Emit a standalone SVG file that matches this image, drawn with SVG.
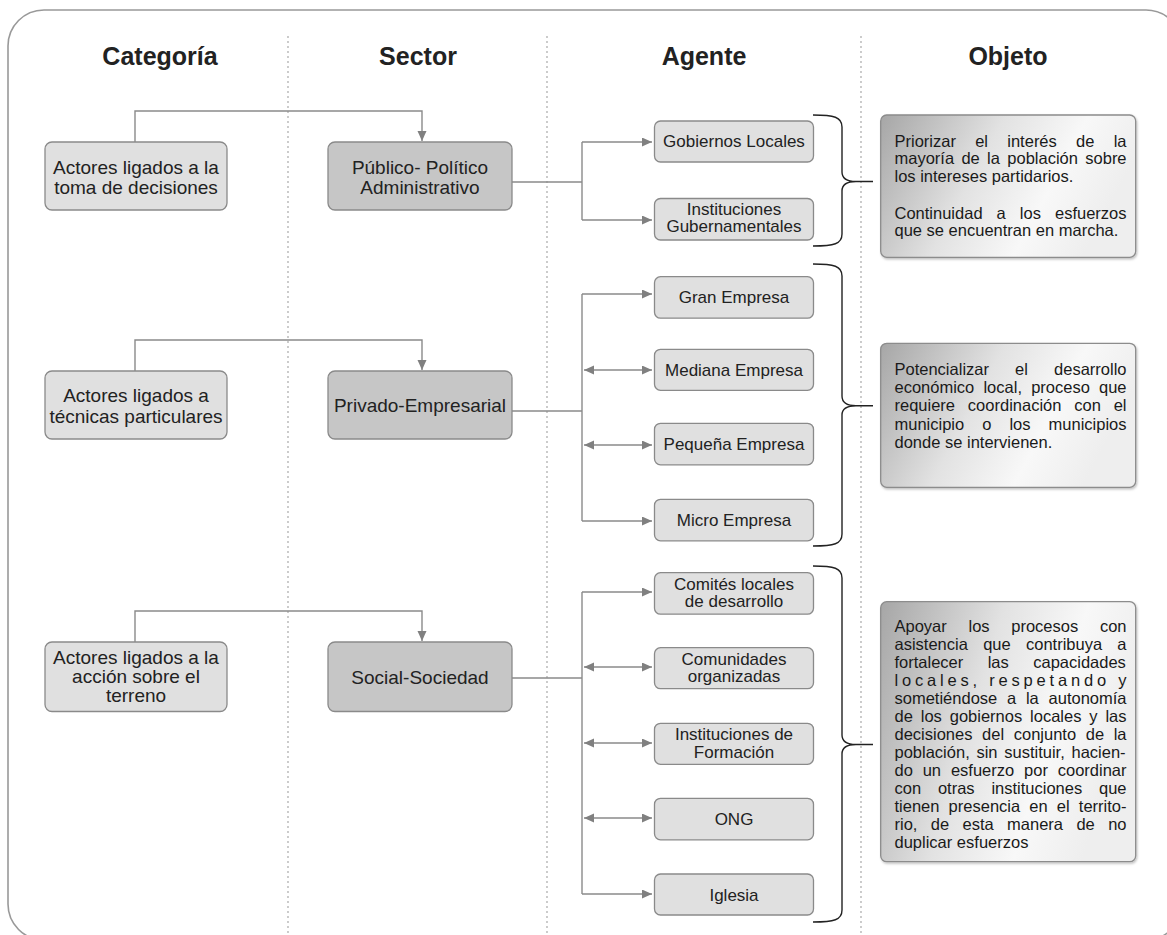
<svg xmlns="http://www.w3.org/2000/svg" width="1167" height="935" viewBox="0 0 1167 935">
<style>
.hdr{font-family:"Liberation Sans",Arial,sans-serif;font-size:25px;font-weight:bold;fill:#222;text-anchor:middle}
.t19{font-family:"Liberation Sans",Arial,sans-serif;font-size:19px;fill:#222;text-anchor:middle}
.t17{font-family:"Liberation Sans",Arial,sans-serif;font-size:17px;fill:#222;text-anchor:middle}
.obj{font-family:"Liberation Sans",Arial,sans-serif;font-size:16.5px;fill:#1a1a1a}
.light{fill:#e0e0e0;stroke:#8a8a8a;stroke-width:1.3}
.dark{fill:#c6c6c6;stroke:#8a8a8a;stroke-width:1.3}
.objbox{fill:url(#g);stroke:#8c8c8c;stroke-width:1.3;filter:url(#sh)}
.div{stroke:#aaa;stroke-width:1.2;stroke-dasharray:2 3;fill:none}
.con{stroke:#8a8a8a;stroke-width:1.4;fill:none}
.brace{stroke:#222;stroke-width:1.4;fill:none}
</style>
<defs>
<linearGradient id="g" x1="0" y1="0" x2="1" y2="0.3">
<stop offset="0" stop-color="#a6a6a6"/>
<stop offset="0.45" stop-color="#e2e2e2"/>
<stop offset="0.75" stop-color="#f8f8f8"/>
<stop offset="1" stop-color="#eeeeee"/>
</linearGradient>
<filter id="sh" x="-5%" y="-5%" width="110%" height="110%">
<feDropShadow dx="1" dy="1.5" stdDeviation="1.2" flood-color="#000" flood-opacity="0.25"/>
</filter>
<marker id="ah" markerUnits="userSpaceOnUse" markerWidth="11" markerHeight="10" refX="10" refY="4.5" orient="auto-start-reverse">
<path d="M0,0 L10,4.5 L0,9 z" fill="#808080"/>
</marker>
</defs>

<rect x="8" y="10" width="1174" height="930" rx="36" ry="36" fill="#fff" stroke="#999" stroke-width="1.6"/>

<g id="dividers">
<line class="div" x1="288" y1="36" x2="288" y2="935"/>
<line class="div" x1="547" y1="36" x2="547" y2="935"/>
<line class="div" x1="861" y1="36" x2="861" y2="935"/>
</g>

<g id="headers">
<text class="hdr" x="160" y="65">Categoría</text>
<text class="hdr" x="418" y="65">Sector</text>
<text class="hdr" x="704" y="65">Agente</text>
<text class="hdr" x="1008" y="65">Objeto</text>
</g>

<g id="connectors">
<path class="con" d="M135,142 V111 H422 V141" marker-end="url(#ah)"/>
<path class="con" d="M135,371 V340 H422 V370" marker-end="url(#ah)"/>
<path class="con" d="M135,642 V611 H422 V641" marker-end="url(#ah)"/>
<path class="con" d="M512,182 H582"/>
<path class="con" d="M582,142 V220"/>
<path class="con" d="M582,142 H652" marker-end="url(#ah)"/>
<path class="con" d="M582,220 H652" marker-end="url(#ah)"/>
<path class="con" d="M512,411 H582"/>
<path class="con" d="M582,294 V521"/>
<path class="con" d="M582,294 H652" marker-end="url(#ah)"/>
<path class="con" d="M584,370 H652" marker-start="url(#ah)" marker-end="url(#ah)"/>
<path class="con" d="M584,445 H652" marker-start="url(#ah)" marker-end="url(#ah)"/>
<path class="con" d="M582,521 H652" marker-end="url(#ah)"/>
<path class="con" d="M512,678 H582"/>
<path class="con" d="M582,592 V894"/>
<path class="con" d="M582,592 H652" marker-end="url(#ah)"/>
<path class="con" d="M584,667 H652" marker-start="url(#ah)" marker-end="url(#ah)"/>
<path class="con" d="M584,743 H652" marker-start="url(#ah)" marker-end="url(#ah)"/>
<path class="con" d="M584,818 H652" marker-start="url(#ah)" marker-end="url(#ah)"/>
<path class="con" d="M582,894 H652" marker-end="url(#ah)"/>
</g>

<g id="braces">
<path class="brace" d="M813,115 C834,115 842,117 842,127 L842,172 C842,179 848,181.5 856,181.5 L873,181.5 M856,181.5 C848,181.5 842,184 842,191 L842,234 C842,244 834,246 813,246"/>
<path class="brace" d="M813,264 C834,264 842,266 842,276 L842,396 C842,403 848,405.7 856,405.7 L873,405.7 M856,405.7 C848,405.7 842,408 842,415 L842,534 C842,544 834,546 813,546"/>
<path class="brace" d="M813,566 C834,566 842,568 842,578 L842,735 C842,742 848,744.5 856,744.5 L873,744.5 M856,744.5 C848,744.5 842,747 842,754 L842,910 C842,920 834,922 813,922"/>
</g>

<g id="cat1"><rect class="light" x="45" y="142" width="182" height="68" rx="7"/>
<text class="t19" x="136" y="173.5">Actores ligados a la</text><text class="t19" x="136" y="193.5">toma de decisiones</text></g>
<g id="cat2"><rect class="light" x="45" y="371" width="182" height="68" rx="7"/>
<text class="t19" x="136" y="402">Actores ligados a</text><text class="t19" x="136" y="422.5">técnicas particulares</text></g>
<g id="cat3"><rect class="light" x="45" y="642" width="182" height="69.5" rx="7"/>
<text class="t19" x="136" y="663.5">Actores ligados a la</text><text class="t19" x="136" y="683">acción sobre el</text><text class="t19" x="136" y="702">terreno</text></g>

<g id="sec1"><rect class="dark" x="328" y="142" width="184" height="68" rx="7"/>
<text class="t19" x="420" y="174">Público- Político</text><text class="t19" x="420" y="193.5">Administrativo</text></g>
<g id="sec2"><rect class="dark" x="328" y="371" width="184" height="68" rx="7"/>
<text class="t19" x="420" y="411.5">Privado-Empresarial</text></g>
<g id="sec3"><rect class="dark" x="328" y="642" width="184" height="69.5" rx="7"/>
<text class="t19" x="420" y="684">Social-Sociedad</text></g>

<g id="ag1"><rect class="light" x="654.5" y="121" width="159" height="41" rx="6"/><text class="t17" x="734" y="147">Gobiernos Locales</text></g>
<g id="ag2"><rect class="light" x="654.5" y="198.5" width="159" height="41.5" rx="6"/><text class="t17" x="734" y="214.5">Instituciones</text><text class="t17" x="734" y="232">Gubernamentales</text></g>
<g id="ag3"><rect class="light" x="654.5" y="276.7" width="159" height="41.5" rx="6"/><text class="t17" x="734" y="303">Gran Empresa</text></g>
<g id="ag4"><rect class="light" x="654.5" y="349.3" width="159" height="41" rx="6"/><text class="t17" x="734" y="375.5">Mediana Empresa</text></g>
<g id="ag5"><rect class="light" x="654.5" y="423.3" width="159" height="41.5" rx="6"/><text class="t17" x="734" y="450">Pequeña Empresa</text></g>
<g id="ag6"><rect class="light" x="654.5" y="499.3" width="159" height="41.5" rx="6"/><text class="t17" x="734" y="526">Micro Empresa</text></g>
<g id="ag7"><rect class="light" x="654.5" y="572.7" width="159" height="41.5" rx="6"/><text class="t17" x="734" y="589.5">Comités locales</text><text class="t17" x="734" y="607">de desarrollo</text></g>
<g id="ag8"><rect class="light" x="654.5" y="647.7" width="159" height="41" rx="6"/><text class="t17" x="734" y="664.5">Comunidades</text><text class="t17" x="734" y="682">organizadas</text></g>
<g id="ag9"><rect class="light" x="654.5" y="723.3" width="159" height="41" rx="6"/><text class="t17" x="734" y="740">Instituciones de</text><text class="t17" x="734" y="757.5">Formación</text></g>
<g id="ag10"><rect class="light" x="654.5" y="798.3" width="159" height="41.5" rx="6"/><text class="t17" x="734" y="824.5">ONG</text></g>
<g id="ag11"><rect class="light" x="654.5" y="874" width="159" height="41" rx="6"/><text class="t17" x="734" y="900.5">Iglesia</text></g>

<g id="obj1"><rect class="objbox" x="880.7" y="115" width="255" height="142.3" rx="6"/>
<text class="obj" x="894.5" y="146.5" word-spacing="14.67">Priorizar el interés de la</text>
<text class="obj" x="894.5" y="164" word-spacing="2.75">mayoría de la población sobre</text>
<text class="obj" x="894.5" y="181.5">los intereses partidarios.</text>
<text class="obj" x="894.5" y="218.5" word-spacing="9.47">Continuidad a los esfuerzos</text>
<text class="obj" x="894.5" y="236">que se encuentran en marcha.</text>
</g>

<g id="obj2"><rect class="objbox" x="880.7" y="343.3" width="255" height="144" rx="6"/>
<text class="obj" x="894.5" y="375" word-spacing="21.55">Potencializar el desarrollo</text>
<text class="obj" x="894.5" y="393.2" word-spacing="4.58">económico local, proceso que</text>
<text class="obj" x="894.5" y="411.4" word-spacing="8.24">requiere coordinación con el</text>
<text class="obj" x="894.5" y="429.6" word-spacing="13.45">municipio o los municipios</text>
<text class="obj" x="894.5" y="447.6">donde se intervienen.</text>
</g>

<g id="obj3"><rect class="objbox" x="880.7" y="601.7" width="255" height="260" rx="6"/>
<text class="obj" x="894.5" y="632.3" word-spacing="17.11">Apoyar los procesos con</text>
<text class="obj" x="894.5" y="650.3" word-spacing="10.69">asistencia que contribuya a</text>
<text class="obj" x="894.5" y="668.3" word-spacing="19.84">fortalecer las capacidades</text>
<text class="obj" x="894.5" y="686.3" textLength="232" lengthAdjust="spacing">locales, respetando y</text>
<text class="obj" x="894.5" y="704.3" word-spacing="5.18">sometiéndose a la autonomía</text>
<text class="obj" x="894.5" y="722.3" word-spacing="3.3">de los gobiernos locales y las</text>
<text class="obj" x="894.5" y="740.3" word-spacing="5.03">decisiones del conjunto de la</text>
<text class="obj" x="894.5" y="758.3" word-spacing="2.13">población, sin sustituir, hacien-</text>
<text class="obj" x="894.5" y="776.3" word-spacing="5.26">do un esfuerzo por coordinar</text>
<text class="obj" x="894.5" y="794.3" word-spacing="12.22">con otras instituciones que</text>
<text class="obj" x="894.5" y="812.3" word-spacing="4.58">tienen presencia en el territo-</text>
<text class="obj" x="894.5" y="830.3" word-spacing="8.79">rio, de esta manera de no</text>
<text class="obj" x="894.5" y="848.3">duplicar esfuerzos</text>
</g>
</svg>
